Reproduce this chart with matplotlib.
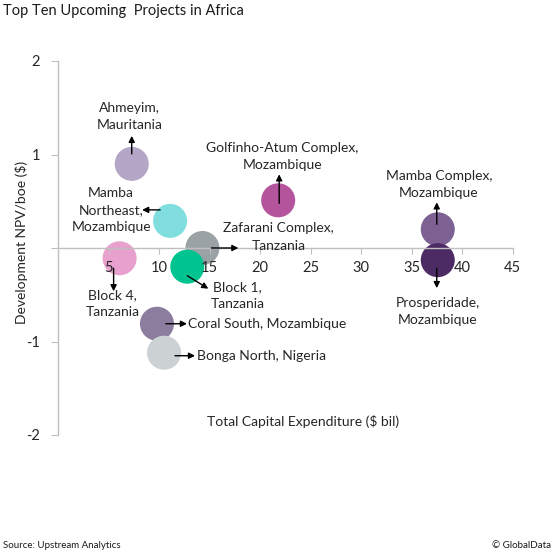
import matplotlib.pyplot as plt

plt.rcParams['font.family'] = ['Lato', 'DejaVu Sans']

# project data
projects = ["Ahmeyim,\nMauritania", "Mamba\nNortheast,\nMozambique", "Block 4,\nTanzania",
            "Zafarani Complex,\nTanzania", "Block 1,\nTanzania", "Coral South, Mozambique",
            "Bonga North, Nigeria", "Golfinho-Atum Complex,\nMozambique",
            "Mamba Complex,\nMozambique", "Prosperidade,\nMozambique"]
capex = [7.3, 11.1, 6.1, 14.3, 12.8, 9.8, 10.5, 21.8, 37.6, 37.6]
npv = [0.90, 0.29, -0.11, 0.0, -0.20, -0.81, -1.12, 0.51, 0.20, -0.13]
colors = ["#b3a6c6", "#80dfde", "#e8a1cf", "#9ba2a6", "#00c48f", "#8c7d9f",
          "#ccd1d4", "#b4549c", "#7c6192", "#4c2a63"]

# label / arrow placement, in pixels relative to bubble centre
label_off = [(-2, -47), (-59, -11), (-7, 45), (76, -11), (50, 29), (31, 0),
             (33, 3), (4, -44), (1, -45), (0, 51)]
label_ha = ["center"] * 5 + ["left", "left"] + ["center"] * 3
arrow_off = [((0, -10), (0, -28)), ((-10, -11), (-28, -11)), ((-6, 10), (-6, 33)),
             ((9, 0), (36, 0)), ((0, 9), (21, 22)), ((9, 0), (30, 0)),
             ((11, 3), (31, 3)), ((1, 3), (1, -26)), ((-1, -5), (-1, -27)),
             ((-1, 8), (-1, 28))]

W, H = 555, 559
fig = plt.figure(figsize=(W / 100, H / 100), dpi=100)
ax = fig.add_axes([58 / W, (H - 435) / H, 454.5 / W, 374 / H])
ax.set_xlim(0, 45)
ax.set_ylim(-2, 2)
ax.set_axisbelow(False)
px_x = 454.5 / 45
px_y = 374 / 4

ax.scatter(capex, npv, s=600, c=colors, edgecolors="none", zorder=2)

for i in range(len(projects)):
    x, y = capex[i], npv[i]
    (sx, sy), (ex, ey) = arrow_off[i]
    ax.annotate("", xy=(x + ex / px_x, y - ey / px_y), xytext=(x + sx / px_x, y - sy / px_y),
                arrowprops=dict(arrowstyle="-|>", color="black", lw=1, shrinkA=0, shrinkB=0,
                                mutation_scale=9), zorder=4)
    dx, dy = label_off[i]
    ax.text(x + dx / px_x, y - dy / px_y, projects[i], ha=label_ha[i], va="center",
            fontsize=10, color="#262626", linespacing=1.5, zorder=5)

for s in ["top", "right"]:
    ax.spines[s].set_visible(False)
ax.spines["left"].set_position(("data", 0))
ax.spines["bottom"].set_position(("data", 0))
for s in ["left", "bottom"]:
    ax.spines[s].set_color("#bfbfbf")
    ax.spines[s].set_linewidth(1)

ax.set_xticks([5, 10, 15, 20, 25, 30, 35, 40, 45])
ax.set_yticks([-2, -1, 0, 1, 2])
ax.set_yticklabels(["-2", "-1", "", "1", "2"])
ax.tick_params(axis="x", direction="out", length=4, color="#bfbfbf", labelsize=10.5,
               labelcolor="#262626", pad=5)
ax.tick_params(axis="y", direction="out", length=5, color="#bfbfbf", labelsize=10.5,
               labelcolor="#262626", pad=8)

fig.text(303 / W, 1 - 421 / H, "Total Capital Expenditure ($ bil)", ha="center", va="center",
         fontsize=10, color="#262626")
fig.text(22 / W, 1 - 242 / H, "Development NPV/boe ($)", ha="center", va="center",
         rotation=90, fontsize=10, color="#262626")
fig.text(3 / W, 1 - 11 / H, "Top Ten Upcoming  Projects in Africa", ha="left", va="center",
         fontsize=10.5, color="#1a1a1a")
fig.text(3 / W, 1 - 546 / H, "Source: Upstream Analytics", ha="left", va="center",
         fontsize=7, color="#1a1a1a")
fig.text(551 / W, 1 - 546 / H, "© GlobalData", ha="right", va="center",
         fontsize=7, color="#1a1a1a")

fig.savefig("out.png", dpi=100)
